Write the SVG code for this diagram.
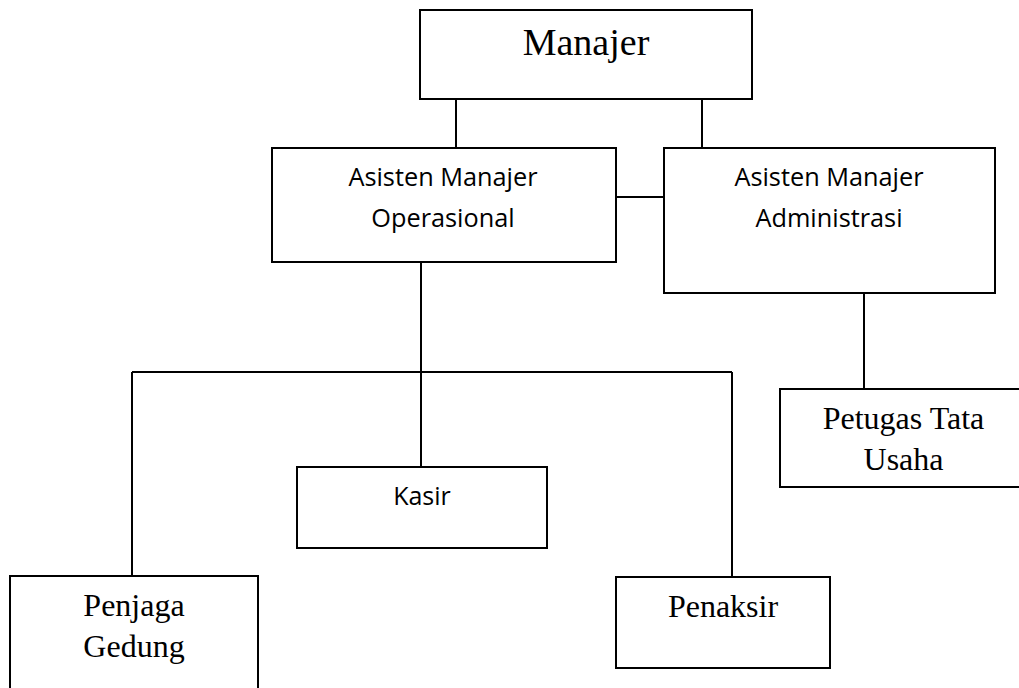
<svg xmlns="http://www.w3.org/2000/svg" width="1019" height="688" viewBox="0 0 1019 688">
<style>
.box{fill:#fff;stroke:#000;stroke-width:2}
.ln{fill:none;stroke:#000;stroke-width:2}
.serif{font-family:"Liberation Serif","Times New Roman",serif;fill:#000;text-anchor:middle}
.sans{font-family:"Open Sans","Liberation Sans",sans-serif;fill:#000;text-anchor:middle}
</style>
<rect width="1019" height="688" fill="#fff"/>
<g id="connectors" class="ln">
<path d="M456 99V148"/>
<path d="M702 99V148"/>
<path d="M616 197H664"/>
<path d="M421 262V372"/>
<path d="M132 372H732"/>
<path d="M132 372V576"/>
<path d="M421 372V467"/>
<path d="M732 372V577"/>
<path d="M864 293V389"/>
</g>
<g id="manajer">
<rect class="box" x="420" y="10" width="332" height="89"/>
<text class="serif" x="586" y="55" font-size="38">Manajer</text>
</g>
<g id="asisten-operasional">
<rect class="box" x="272" y="148" width="344" height="114"/>
<text class="sans" x="443" y="186" font-size="25.3">Asisten Manajer</text>
<text class="sans" x="443" y="227" font-size="25.3">Operasional</text>
</g>
<g id="asisten-administrasi">
<rect class="box" x="664" y="148" width="331" height="145"/>
<text class="sans" x="829" y="186" font-size="25.3">Asisten Manajer</text>
<text class="sans" x="829" y="227" font-size="25.3">Administrasi</text>
</g>
<g id="petugas-tata-usaha">
<rect class="box" x="780" y="389" width="247" height="98"/>
<text class="serif" x="903.5" y="429" font-size="32">Petugas Tata</text>
<text class="serif" x="903.5" y="470" font-size="32">Usaha</text>
</g>
<g id="kasir">
<rect class="box" x="297" y="467" width="250" height="81"/>
<text class="sans" x="422" y="505" font-size="25">Kasir</text>
</g>
<g id="penjaga-gedung">
<rect class="box" x="10" y="576" width="248" height="124"/>
<text class="serif" x="134" y="616" font-size="32">Penjaga</text>
<text class="serif" x="134" y="657" font-size="32">Gedung</text>
</g>
<g id="penaksir">
<rect class="box" x="616" y="577" width="214" height="91"/>
<text class="serif" x="723" y="617" font-size="32">Penaksir</text>
</g>
</svg>
